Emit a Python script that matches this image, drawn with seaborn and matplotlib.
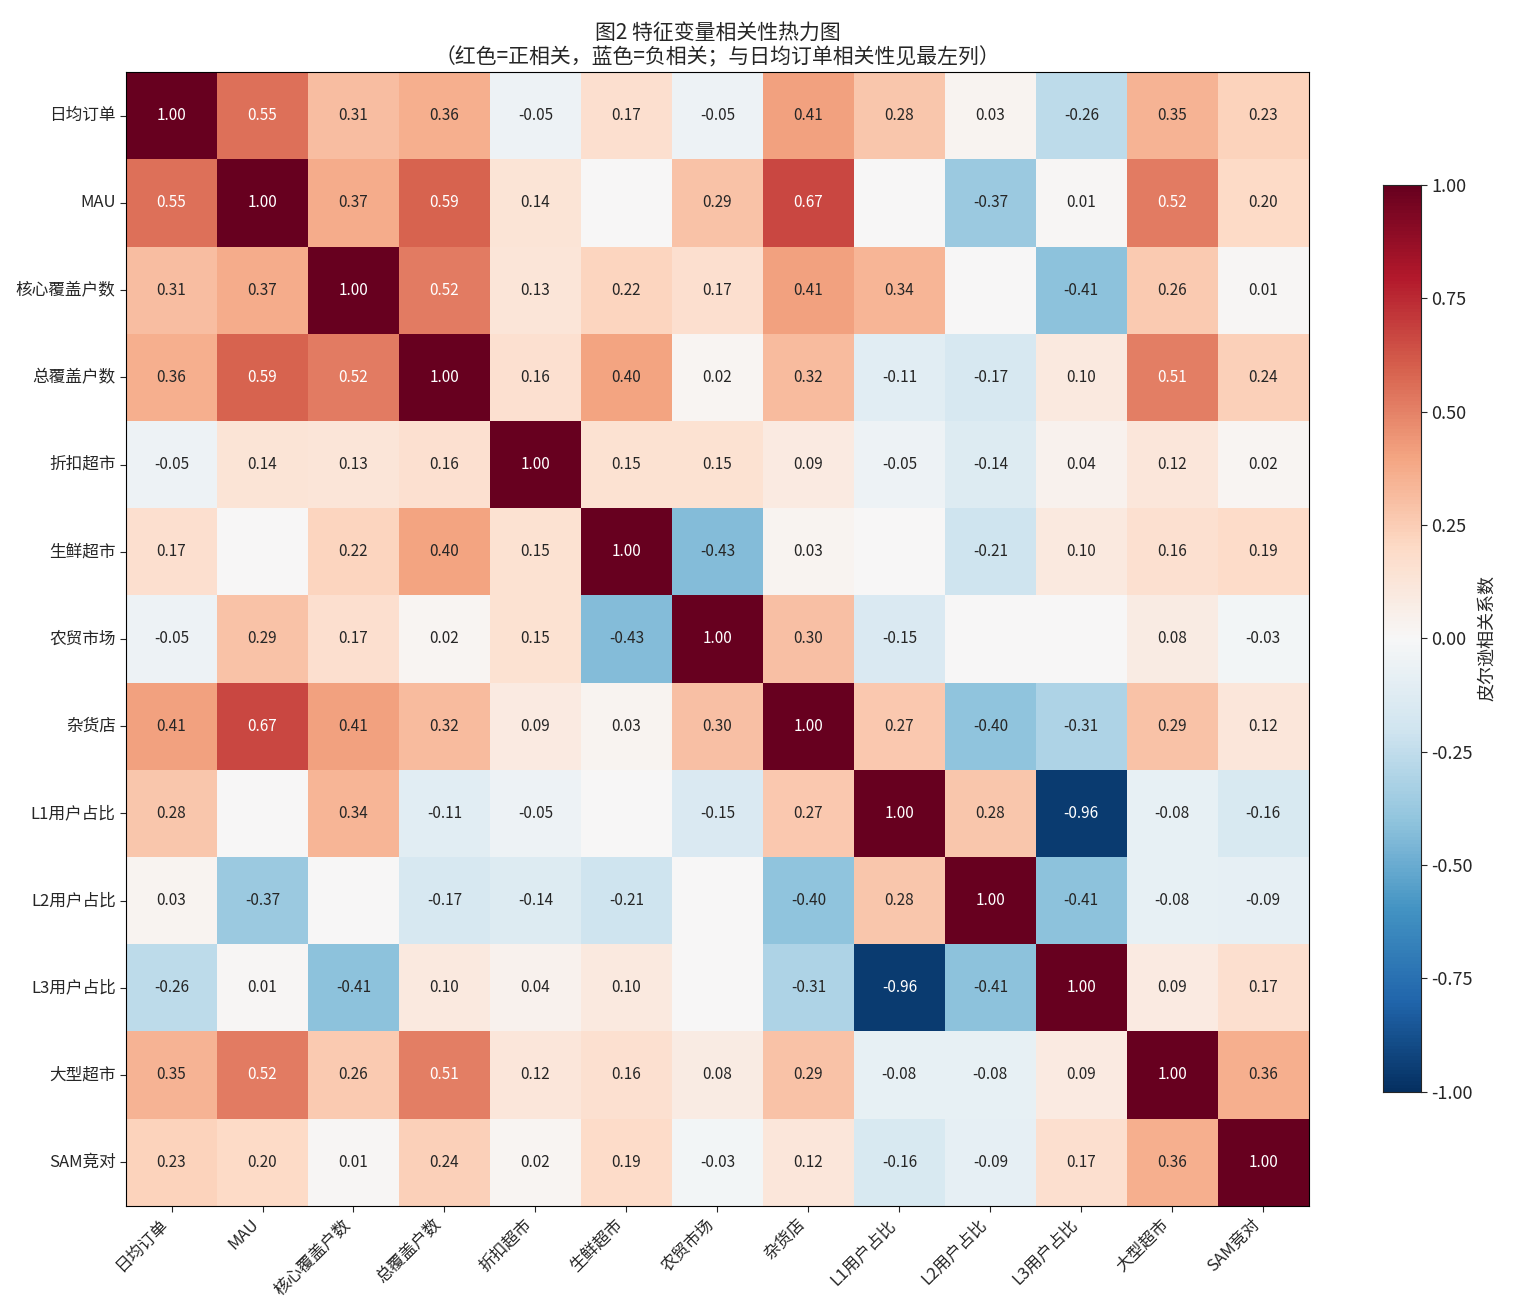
import numpy as np
import pandas as pd
import matplotlib
matplotlib.use('Agg')
import matplotlib.pyplot as plt
import seaborn as sns

labels = ['日均订单', 'MAU', '核心覆盖户数', '总覆盖户数', '折扣超市', '生鲜超市', '农贸市场',
          '杂货店', 'L1用户占比', 'L2用户占比', 'L3用户占比', '大型超市', 'SAM竞对']

# 0.0 = 图中空白格
corr_rows = [
    [1.00, 0.55, 0.31, 0.36, -0.05, 0.17, -0.05, 0.41, 0.28, 0.03, -0.26, 0.35, 0.23],
    [0.55, 1.00, 0.37, 0.59, 0.14, 0.00, 0.29, 0.67, 0.00, -0.37, 0.01, 0.52, 0.20],
    [0.31, 0.37, 1.00, 0.52, 0.13, 0.22, 0.17, 0.41, 0.34, 0.00, -0.41, 0.26, 0.01],
    [0.36, 0.59, 0.52, 1.00, 0.16, 0.40, 0.02, 0.32, -0.11, -0.17, 0.10, 0.51, 0.24],
    [-0.05, 0.14, 0.13, 0.16, 1.00, 0.15, 0.15, 0.09, -0.05, -0.14, 0.04, 0.12, 0.02],
    [0.17, 0.00, 0.22, 0.40, 0.15, 1.00, -0.43, 0.03, 0.00, -0.21, 0.10, 0.16, 0.19],
    [-0.05, 0.29, 0.17, 0.02, 0.15, -0.43, 1.00, 0.30, -0.15, 0.00, 0.00, 0.08, -0.03],
    [0.41, 0.67, 0.41, 0.32, 0.09, 0.03, 0.30, 1.00, 0.27, -0.40, -0.31, 0.29, 0.12],
    [0.28, 0.00, 0.34, -0.11, -0.05, 0.00, -0.15, 0.27, 1.00, 0.28, -0.96, -0.08, -0.16],
    [0.03, -0.37, 0.00, -0.17, -0.14, -0.21, 0.00, -0.40, 0.28, 1.00, -0.41, -0.08, -0.09],
    [-0.26, 0.01, -0.41, 0.10, 0.04, 0.10, 0.00, -0.31, -0.96, -0.41, 1.00, 0.09, 0.17],
    [0.35, 0.52, 0.26, 0.51, 0.12, 0.16, 0.08, 0.29, -0.08, -0.08, 0.09, 1.00, 0.36],
    [0.23, 0.20, 0.01, 0.24, 0.02, 0.19, -0.03, 0.12, -0.16, -0.09, 0.17, 0.36, 1.00],
]

corr_df = pd.DataFrame(corr_rows, index=labels, columns=labels)
annot_labels = np.array([['' if v == 0 else f'{v:.2f}' for v in row] for row in corr_rows])

sns.set_style('white')
plt.rcParams['font.family'] = ['Noto Sans CJK SC', 'DejaVu Sans']
plt.rcParams['axes.unicode_minus'] = False

fig = plt.figure(figsize=(15.28, 13.12), dpi=100)
ax = fig.add_axes([0.0825, 0.081, 0.774, 0.864])
cax = fig.add_axes([0.905, 0.168, 0.025, 0.691])

sns.heatmap(corr_df, ax=ax, cbar_ax=cax, cmap='RdBu_r', vmin=-1, vmax=1,
            annot=annot_labels, fmt='', annot_kws={'size': 11},
            cbar_kws={'label': '皮尔逊相关系数'})
for s in ax.spines.values():
    s.set_visible(True)
    s.set_color('black')
ax.set_title('图2 特征变量相关性热力图\n（红色=正相关，蓝色=负相关；与日均订单相关性见最左列）', fontsize=15)
ax.set_xticklabels(labels, rotation=45, ha='right', fontsize=12)
ax.set_yticklabels(labels, rotation=0, fontsize=12)
ax.tick_params(left=True, bottom=True, length=4)
cax.tick_params(labelsize=13, length=4)
cax.yaxis.label.set_size(13)
cax.set_yticks([-1, -0.75, -0.5, -0.25, 0, 0.25, 0.5, 0.75, 1])
for s in cax.spines.values():
    s.set_visible(True)

fig.savefig('out.png', dpi=100)
